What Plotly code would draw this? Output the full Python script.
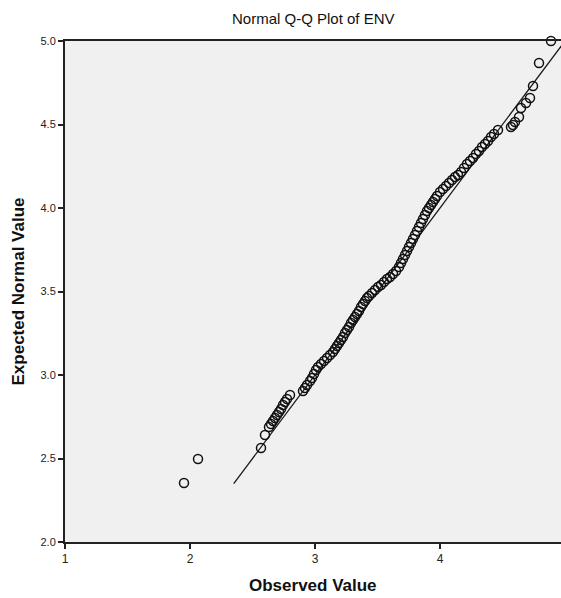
import plotly.graph_objects as go

obs_values = [
    1.952, 2.064,
    2.568, 2.600, 2.632, 2.648, 2.664, 2.680, 2.696, 2.712, 2.728, 2.744, 2.760, 2.776, 2.800,
    2.904, 2.920, 2.936, 2.960, 2.976, 2.992, 3.008, 3.024, 3.048, 3.072, 3.096, 3.120,
    3.144, 3.160, 3.176, 3.192, 3.208, 3.224, 3.240, 3.256, 3.272, 3.288, 3.304, 3.320,
    3.336, 3.352, 3.368, 3.384, 3.400, 3.416, 3.432, 3.456, 3.480, 3.504, 3.528, 3.552,
    3.576, 3.600, 3.624, 3.648, 3.672, 3.688, 3.704, 3.720, 3.736, 3.752, 3.768, 3.784,
    3.800, 3.816, 3.832, 3.848, 3.864, 3.880, 3.896, 3.912, 3.928, 3.944, 3.960, 3.976,
    4.000, 4.024, 4.048, 4.072, 4.096, 4.120, 4.144, 4.168, 4.192, 4.216, 4.240, 4.264,
    4.288, 4.312, 4.336, 4.360, 4.384, 4.408, 4.432, 4.464,
    4.568, 4.584, 4.600, 4.632, 4.648, 4.688, 4.720, 4.744, 4.792, 4.888,
]
expected_normal = [
    2.353, 2.497,
    2.563, 2.641, 2.689, 2.707, 2.725, 2.743, 2.760, 2.778, 2.796, 2.820, 2.838, 2.856, 2.880,
    2.904, 2.922, 2.940, 2.964, 2.982, 3.006, 3.030, 3.048, 3.066, 3.084, 3.102, 3.120,
    3.138, 3.156, 3.174, 3.192, 3.210, 3.228, 3.251, 3.269, 3.287, 3.311, 3.329, 3.347,
    3.365, 3.383, 3.407, 3.425, 3.443, 3.461, 3.473, 3.491, 3.509, 3.527, 3.539, 3.557,
    3.575, 3.587, 3.605, 3.623, 3.647, 3.671, 3.695, 3.719, 3.743, 3.766, 3.790, 3.814,
    3.838, 3.862, 3.886, 3.910, 3.934, 3.958, 3.982, 4.000, 4.018, 4.036, 4.054, 4.072,
    4.096, 4.114, 4.132, 4.150, 4.168, 4.186, 4.198, 4.216, 4.240, 4.263, 4.281, 4.299,
    4.323, 4.341, 4.365, 4.383, 4.401, 4.425, 4.443, 4.467,
    4.485, 4.497, 4.515, 4.545, 4.599, 4.629, 4.659, 4.731, 4.868, 5.000,
]

# Reference line (y = x)
line_x = [2.35, 5.0]
line_y = [2.35, 5.0]

x_ticks = [1, 2, 3, 4, 5]
y_ticks = [2.0, 2.5, 3.0, 3.5, 4.0, 4.5, 5.0]

fig = go.Figure()
fig.add_trace(go.Scatter(
    x=line_x, y=line_y, mode="lines",
    line=dict(color="#1a1a1a", width=1.3), showlegend=False, hoverinfo="skip"))
fig.add_trace(go.Scatter(
    x=obs_values, y=expected_normal, mode="markers",
    marker=dict(symbol="circle-open", size=9, color="#111111", line=dict(width=1.5)),
    cliponaxis=False, showlegend=False))

font_family = "Liberation Sans, Arial, sans-serif"
fig.update_layout(
    width=561, height=598,
    margin=dict(l=65, r=0, t=41, b=56),
    paper_bgcolor="white", plot_bgcolor="#F0F0F0",
    font=dict(family=font_family, color="#222222", size=12),
    xaxis=dict(range=[1, 4.968], tickvals=x_ticks, ticks="outside", ticklen=5,
               tickwidth=1.5, tickcolor="#222222", showline=True, linecolor="#222222",
               linewidth=2, mirror=True, showgrid=False, zeroline=False,
               tickfont=dict(size=12, color="#222222")),
    yaxis=dict(range=[2, 5], tickvals=y_ticks, tickformat=".1f", ticks="outside",
               ticklen=5, tickwidth=1.5, tickcolor="#222222", showline=True,
               linecolor="#222222", linewidth=2, showgrid=False, zeroline=False,
               tickfont=dict(size=11, color="#222222")),
    annotations=[
        dict(text="Normal Q-Q Plot of ENV", xref="paper", yref="paper", x=0.5, y=1,
             yshift=23, showarrow=False, yanchor="middle",
             font=dict(size=15, color="#111111", family=font_family)),
        dict(text="<b>Observed Value</b>", xref="paper", yref="paper", x=0.5, y=0,
             yshift=-43, showarrow=False, yanchor="middle",
             font=dict(size=17, color="#111111", family=font_family)),
        dict(text="<b>Expected Normal Value</b>", xref="paper", yref="paper", x=0, y=0.5,
             xshift=-47, showarrow=False, xanchor="center", textangle=-90,
             font=dict(size=17, color="#111111", family=font_family)),
    ],
)

fig.write_html("out.html")
